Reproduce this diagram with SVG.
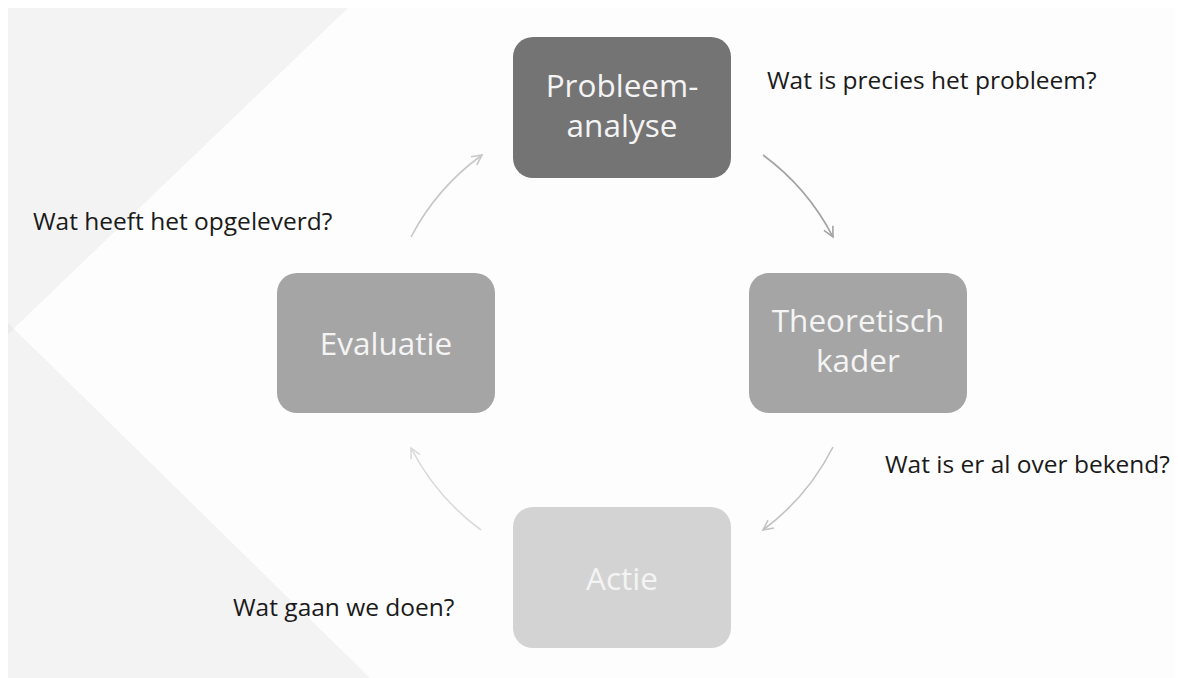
<svg xmlns="http://www.w3.org/2000/svg" width="1178" height="678" viewBox="0 0 1178 678">
  <style>
    .node-text { font-family: "Open Sans", "Liberation Sans", sans-serif; font-size: 31.5px; fill: #f4f4f4; text-anchor: middle; }
    .label { font-family: "Open Sans", "Liberation Sans", sans-serif; font-size: 24.5px; fill: #1a1a1a; }
    .conn { fill: none; stroke-width: 1.6; }
  </style>
  <defs>
    <marker id="ah1" markerUnits="userSpaceOnUse" markerWidth="14" markerHeight="14" refX="11" refY="6" orient="auto">
      <path d="M1,1 L11,6 L1,11" fill="none" stroke="#a3a3a3" stroke-width="1.6"/>
    </marker>
    <marker id="ah2" markerUnits="userSpaceOnUse" markerWidth="14" markerHeight="14" refX="11" refY="6" orient="auto">
      <path d="M1,1 L11,6 L1,11" fill="none" stroke="#c2c2c2" stroke-width="1.6"/>
    </marker>
    <marker id="ah3" markerUnits="userSpaceOnUse" markerWidth="14" markerHeight="14" refX="11" refY="6" orient="auto">
      <path d="M1,1 L11,6 L1,11" fill="none" stroke="#dadada" stroke-width="1.6"/>
    </marker>
    <marker id="ah4" markerUnits="userSpaceOnUse" markerWidth="14" markerHeight="14" refX="11" refY="6" orient="auto">
      <path d="M1,1 L11,6 L1,11" fill="none" stroke="#c8c8c8" stroke-width="1.6"/>
    </marker>
  </defs>

  <rect x="0" y="0" width="1178" height="678" fill="#ffffff"/>
  <rect x="8" y="8" width="1167" height="670" fill="#fdfdfd"/>
  <g id="background-shapes">
    <polygon points="8,8 348,8 8,334" fill="#f3f3f3"/>
    <polygon points="8,323 370,678 8,678" fill="#f3f3f3"/>
    <polygon points="8,323 14,329 8,334" fill="#ebebeb"/>
  </g>

  <g id="connectors">
    <path class="conn" stroke="#a3a3a3" d="M763,155 A236,236 0 0 1 833,237" marker-end="url(#ah1)"/>
    <path class="conn" stroke="#c2c2c2" d="M833,447 A236,236 0 0 1 763,530" marker-end="url(#ah2)"/>
    <path class="conn" stroke="#dadada" d="M481,530 A236,236 0 0 1 411,448" marker-end="url(#ah3)"/>
    <path class="conn" stroke="#c8c8c8" d="M411,237 A236,236 0 0 1 482,155" marker-end="url(#ah4)"/>
  </g>

  <g id="node-probleemanalyse">
    <rect x="513" y="37" width="218" height="141" rx="20" fill="#747474"/>
    <text class="node-text" x="622" y="97">Probleem-</text>
    <text class="node-text" x="622" y="137">analyse</text>
  </g>
  <g id="node-theoretisch-kader">
    <rect x="749" y="273" width="218" height="140" rx="20" fill="#a5a5a5"/>
    <text class="node-text" x="858" y="332">Theoretisch</text>
    <text class="node-text" x="858" y="372">kader</text>
  </g>
  <g id="node-evaluatie">
    <rect x="277" y="273" width="218" height="140" rx="20" fill="#a5a5a5"/>
    <text class="node-text" x="386" y="355">Evaluatie</text>
  </g>
  <g id="node-actie">
    <rect x="513" y="507" width="218" height="141" rx="20" fill="#d3d3d3"/>
    <text class="node-text" x="622" y="590">Actie</text>
  </g>

  <g id="labels">
    <text class="label" x="767" y="89">Wat is precies het probleem?</text>
    <text class="label" x="33" y="230">Wat heeft het opgeleverd?</text>
    <text class="label" x="885" y="473">Wat is er al over bekend?</text>
    <text class="label" x="233" y="616">Wat gaan we doen?</text>
  </g>
</svg>
